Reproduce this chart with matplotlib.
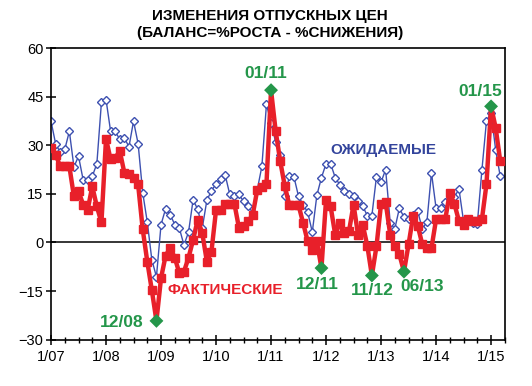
import numpy as np
import matplotlib
matplotlib.use('Agg')
import matplotlib.pyplot as plt
from matplotlib.ticker import MultipleLocator

plt.rcParams['font.family'] = ['Liberation Sans', 'DejaVu Sans']

# monthly balances, 1/07 .. 3/15
actual = [29.2, 27.1, 23.5, 23.5, 23.5, 14.2, 15.8, 11.7, 10.1, 17.3, 11.1, 6.2,
          32.0, 25.6, 26.1, 28.2, 21.5, 21.0, 19.9, 17.9, 4.1, -5.9, -14.8, -24.2,
          -11.0, -4.1, -1.7, -4.7, -9.5, -9.0, -4.7, 0.8, 7.0, 2.9, -5.9, -2.8,
          10.0, 10.0, 12.0, 12.0, 12.0, 4.5, 5.0, 6.5, 8.5, 16.3, 17.0, 18.0,
          47.0, 34.5, 25.1, 17.4, 11.5, 11.5, 11.5, 6.0, 0.3, -2.4, 0.3, -7.9,
          13.2, 11.1, 2.4, 6.0, 3.0, 3.4, 11.7, 2.2, 5.5, -1.0, -10.2, -1.2,
          11.9, 12.4, 2.4, -1.2, -3.7, -9.0, -0.6, 8.1, 5.2, -0.6, -1.7, -1.7,
          7.1, 7.1, 7.1, 15.3, 11.9, 6.6, 5.5, 7.1, 6.6, 6.6, 7.1, 18.0,
          42.0, 35.4, 25.1]
expected = [37.4, 30.5, 27.8, 28.7, 34.3, 23.3, 26.6, 19.4, 19.4, 20.4, 24.3, 43.3,
            44.1, 34.3, 34.3, 31.8, 32.3, 29.5, 37.4, 30.5, 15.4, 6.3, -5.4, -10.6,
            5.5, 10.4, 8.6, 5.5, 4.4, -0.8, 3.2, 13.2, 10.2, 4.5, 13.0, 16.0,
            18.0, 19.5, 20.8, 14.8, 14.2, 14.8, 12.7, 11.3, 9.1, 16.3, 23.5, 42.6,
            37.0, 31.0, 27.1, 14.2, 20.4, 20.2, 14.2, 11.7, 9.3, 3.2, 14.6, 20.0,
            24.3, 24.3, 20.0, 17.8, 15.8, 15.0, 14.3, 12.7, 11.2, 8.3, 8.3, 20.3,
            18.6, 22.5, 6.0, 4.2, 10.6, 7.8, 7.2, 8.6, 9.6, 4.2, 6.3, 21.5,
            10.6, 10.6, 12.6, 14.7, 14.0, 16.5, 6.5, 6.5, 6.0, 5.8, 22.3, 37.5,
            40.0, 28.6, 20.4]
months = np.arange(len(actual))

year_labels = ['1/07', '1/08', '1/09', '1/10', '1/11', '1/12', '1/13', '1/14', '1/15']

# highlighted extremes: month index, label
hl_idx = [23, 48, 59, 70, 77, 96]
hl_lbl = ['12/08', '01/11', '12/11', '11/12', '06/13', '01/15']
hl_off = [(-25, -1), (-4, 12), (-3, -12), (0, -11), (13, -11), (-8, 11)]

RED = '#e8202a'
BLUE = '#3d50b0'
GREEN = '#24964a'

fig = plt.figure(figsize=(5.32, 3.86), dpi=100)
ax = fig.add_axes([0.0959, 0.12, 0.853, 0.7556])

ax.axhline(0, color='black', lw=1.1, zorder=1)
ax.plot(months, expected, color=BLUE, lw=1.0, marker='D', ms=4,
        mfc='white', mec=BLUE, mew=1.0, zorder=2)
# red squares everywhere except the highlighted months (those get green diamonds)
act = np.array(actual)
keep = np.ones(len(act), bool)
keep[hl_idx] = False
ax.plot(months, actual, color=RED, lw=3.2, zorder=3)
ax.plot(months[keep], act[keep], ls='none', marker='s', ms=5.8,
        mfc=RED, mec=RED, zorder=3)

ax.scatter(months[hl_idx], act[hl_idx], marker='D', s=50, color=GREEN,
           edgecolors='none', zorder=4)
for i, lbl, off in zip(hl_idx, hl_lbl, hl_off):
    ax.annotate(lbl, (months[i], act[i]), xytext=off, textcoords='offset points',
                ha='center', va='center', color=GREEN, fontsize=12.5, fontweight='bold')

ax.text(0.733, 0.650, 'ОЖИДАЕМЫЕ', transform=ax.transAxes, ha='center', va='center',
        color='#33449c', fontsize=11, fontweight='bold')
ax.text(0.383, 0.170, 'ФАКТИЧЕСКИЕ', transform=ax.transAxes, ha='center', va='center',
        color=RED, fontsize=11, fontweight='bold')

ax.set_xlim(0, 99)
ax.set_ylim(-30, 60)
ax.yaxis.set_major_locator(MultipleLocator(15))
ax.set_xticks(np.arange(len(year_labels)) * 12)
ax.set_xticklabels(year_labels)
ax.xaxis.set_minor_locator(MultipleLocator(3))
ax.tick_params(axis='both', which='major', direction='inout', length=7, width=1.1,
               labelsize=10.5, colors='black')
ax.tick_params(axis='x', which='minor', direction='inout', length=5, width=1.0)
ax.tick_params(axis='y', which='major', pad=2)
ax.tick_params(axis='x', which='major', pad=4)
for s in ax.spines.values():
    s.set_linewidth(1.2)

fig.text(0.507, 0.958, 'ИЗМЕНЕНИЯ ОТПУСКНЫХ ЦЕН', ha='center', va='center',
         fontsize=11, fontweight='bold')
fig.text(0.507, 0.914, '(БАЛАНС=%РОСТА - %СНИЖЕНИЯ)', ha='center', va='center',
         fontsize=11, fontweight='bold')

fig.savefig('out.png', dpi=100)
